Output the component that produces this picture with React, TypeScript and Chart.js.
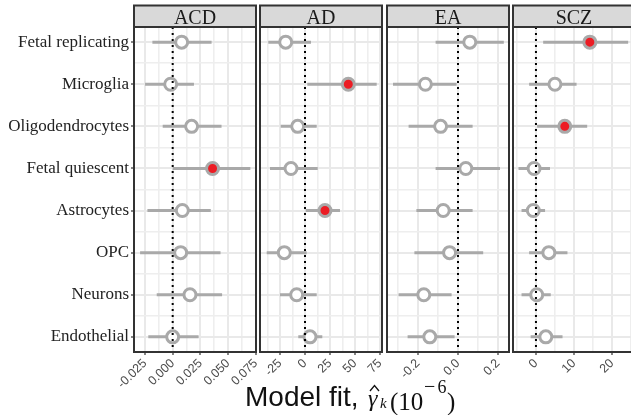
import React, { useEffect, useRef } from 'react';
import { Chart, registerables } from 'chart.js';
Chart.register(...registerables);

// ---------------- data ----------------
const categories = [
  'Fetal replicating',
  'Microglia',
  'Oligodendrocytes',
  'Fetal quiescent',
  'Astrocytes',
  'OPC',
  'Neurons',
  'Endothelial',
];

const panelNames = ['ACD', 'AD', 'EA', 'SCZ'];

const acdEstimate = [0.0081, -0.0018, 0.0171, 0.036, 0.0087, 0.0072, 0.0156, 0.0];
const acdLower = [-0.0183, -0.0249, -0.009, 0.0, -0.0228, -0.0294, -0.0144, -0.022];
const acdUpper = [0.0351, 0.0192, 0.0441, 0.0701, 0.0344, 0.0432, 0.0446, 0.0234];
const acdSignificant = [false, false, false, true, false, false, false, false];

const adEstimate = [-19.3, 43.3, -7.3, -14, 20, -20.7, -8.3, 5];
const adLower = [-36.7, 2.3, -24.3, -35, 0.7, -38.3, -25, -6.7];
const adUpper = [6, 71.7, 11.7, 12.7, 35, 1.7, 11.7, 17.3];
const adSignificant = [false, true, false, false, true, false, false, false];

const eaEstimate = [0.059, -0.163, -0.087, 0.039, -0.074, -0.042, -0.171, -0.141];
const eaLower = [-0.112, -0.325, -0.247, -0.112, -0.208, -0.218, -0.297, -0.252];
const eaUpper = [0.229, -0.007, 0.073, 0.21, 0.073, 0.126, -0.032, -0.017];
const eaSignificant = [false, false, false, false, false, false, false, false];

const sczEstimate = [14.2, 5.0, 7.6, -0.5, -0.7, 3.4, 0.2, 2.6];
const sczLower = [1.9, -1.8, 0.3, -4.6, -3.8, -1.8, -3.8, -1.4];
const sczUpper = [24.3, 10.7, 13.5, 3.7, 2.4, 8.3, 3.9, 7.0];
const sczSignificant = [true, false, true, false, false, false, false, false];

const acdTicks = [-0.025, 0, 0.025, 0.05, 0.075];
const acdTickLabels = ['-0.025', '0.000', '0.025', '0.050', '0.075'];
const adTicks = [-25, 0, 25, 50, 75];
const adTickLabels = ['-25', '0', '25', '50', '75'];
const eaTicks = [-0.2, 0, 0.2];
const eaTickLabels = ['-0.2', '0.0', '0.2'];
const sczTicks = [0, 10, 20];
const sczTickLabels = ['0', '10', '20'];

const acdRange = [-0.0349, 0.0752];
const adRange = [-45, 77];
const eaRange = [-0.355, 0.255];
const sczRange = [-6.05, 26.1];

// ---------------- styling / layout ----------------
const W = 631;
const H = 415;
const PANEL_LEFTS = [134, 260, 386.5, 513];
const PANEL_W = 122;
const PANEL_TOP = 27;
const PANEL_BOTTOM = 352;
const STRIP_TOP = 5.5;
const RED = '#ec1c24';
const GREY = '#a9a9a9';
const SANS = '"Liberation Sans", Arial, Helvetica, sans-serif';
const SERIF = '"Liberation Serif", "Times New Roman", serif';

const panels = [
  { name: panelNames[0], est: acdEstimate, lo: acdLower, hi: acdUpper, sig: acdSignificant, ticks: acdTicks, labels: acdTickLabels, range: acdRange },
  { name: panelNames[1], est: adEstimate, lo: adLower, hi: adUpper, sig: adSignificant, ticks: adTicks, labels: adTickLabels, range: adRange },
  { name: panelNames[2], est: eaEstimate, lo: eaLower, hi: eaUpper, sig: eaSignificant, ticks: eaTicks, labels: eaTickLabels, range: eaRange },
  { name: panelNames[3], est: sczEstimate, lo: sczLower, hi: sczUpper, sig: sczSignificant, ticks: sczTicks, labels: sczTickLabels, range: sczRange },
];

function drawTitle(ctx: CanvasRenderingContext2D) {
  ctx.save();
  ctx.fillStyle = '#111';
  ctx.textBaseline = 'alphabetic';
  ctx.textAlign = 'left';
  ctx.font = '28px ' + SANS;
  ctx.fillText('Model fit,', 245, 406);
  ctx.font = 'italic 24px ' + SERIF;
  ctx.fillText('γ', 368, 406);
  ctx.strokeStyle = '#111';
  ctx.lineWidth = 1.3;
  ctx.beginPath();
  ctx.moveTo(370, 391);
  ctx.lineTo(374.5, 385.5);
  ctx.lineTo(379, 391);
  ctx.stroke();
  ctx.font = 'italic 15px ' + SERIF;
  ctx.fillText('k', 380, 408);
  ctx.font = '25px ' + SERIF;
  ctx.fillText('(10', 390, 410);
  ctx.font = '20px ' + SERIF;
  ctx.fillText('−', 424, 393);
  ctx.font = '18px ' + SERIF;
  ctx.fillText('6', 437.5, 393);
  ctx.font = '25px ' + SERIF;
  ctx.fillText(')', 447, 410);
  ctx.restore();
}

function Panel({ index }: { index: number }) {
  const ref = useRef<HTMLCanvasElement | null>(null);
  const p = panels[index];
  const first = index === 0;
  const panelLeft = PANEL_LEFTS[index];
  const canvasLeft = first ? 0 : panelLeft - 40;
  const canvasWidth = first ? W : 40 + PANEL_W + 16;
  const padLeft = first ? 0 : 40;
  const padRight = canvasWidth - (panelLeft - canvasLeft) - PANEL_W;

  useEffect(() => {
    if (!ref.current) return;
    const step = p.ticks[1] - p.ticks[0];
    const minor: number[] = [];
    const cand = [p.ticks[0] - step / 2, ...p.ticks.slice(1).map((t, i) => (t + p.ticks[i]) / 2), p.ticks[p.ticks.length - 1] + step / 2];
    cand.forEach((v) => { if (v > p.range[0] && v < p.range[1]) minor.push(v); });
    const allX = [...p.ticks, ...minor].sort((a, b) => a - b);
    const tol = Math.abs(step) * 1e-6;
    const majorIdx = (v: number) => p.ticks.findIndex((t) => Math.abs(t - v) < tol);

    const yVals: number[] = [];
    categories.forEach((_, i) => { yVals.push(i); if (i < categories.length - 1) yVals.push(i + 0.5); });

    const barData: any[] = [];
    categories.forEach((_, i) => {
      barData.push({ x: p.lo[i], y: i }, { x: p.hi[i], y: i }, { x: null, y: null });
    });

    const deco = {
      id: 'deco' + index,
      afterDatasetsDraw(chart: any) {
        const { ctx, chartArea: a, scales } = chart;
        const px = scales.x.getPixelForValue(0);
        ctx.save();
        ctx.strokeStyle = '#000';
        ctx.lineWidth = 2;
        ctx.setLineDash([2, 4]);
        ctx.beginPath();
        ctx.moveTo(px, a.top);
        ctx.lineTo(px, a.bottom);
        ctx.stroke();
        ctx.restore();
      },
      afterDraw(chart: any) {
        const { ctx, chartArea: a } = chart;
        ctx.save();
        ctx.fillStyle = '#d9d9d9';
        ctx.fillRect(a.left, STRIP_TOP, a.right - a.left, a.top - STRIP_TOP);
        ctx.strokeStyle = '#333';
        ctx.lineWidth = 2;
        ctx.strokeRect(a.left, STRIP_TOP, a.right - a.left, a.top - STRIP_TOP);
        ctx.strokeRect(a.left, a.top, a.right - a.left, a.bottom - a.top);
        ctx.fillStyle = '#1a1a1a';
        ctx.font = '20px ' + SERIF;
        ctx.textAlign = 'center';
        ctx.textBaseline = 'alphabetic';
        ctx.fillText(p.name, (a.left + a.right) / 2, 23.5);
        ctx.restore();
        if (first) drawTitle(ctx);
      },
    };

    const chart = new Chart(ref.current, {
      type: 'scatter',
      data: {
        datasets: [
          {
            type: 'scatter',
            data: p.est.map((v, i) => ({ x: v, y: i })),
            pointRadius: 6,
            pointBorderWidth: 3,
            pointBorderColor: GREY,
            pointBackgroundColor: p.sig.map((s) => (s ? RED : '#ffffff')),
            order: 0,
          } as any,
          {
            type: 'line',
            data: barData,
            borderColor: GREY,
            borderWidth: 3,
            borderCapStyle: 'butt',
            pointRadius: 0,
            showLine: true,
            spanGaps: false,
            order: 1,
          } as any,
        ],
      },
      options: {
        responsive: false,
        animation: false,
        events: [],
        layout: { padding: { left: padLeft, right: padRight, top: PANEL_TOP, bottom: 0 } },
        plugins: { legend: { display: false }, tooltip: { enabled: false }, title: { display: false } },
        scales: {
          x: {
            type: 'linear',
            min: p.range[0],
            max: p.range[1],
            afterBuildTicks: (scale: any) => { scale.ticks = allX.map((v) => ({ value: v })); },
            afterFit: (scale: any) => { scale.height = H - PANEL_BOTTOM; },
            border: { display: false },
            grid: {
              color: (c: any) => (c.tick && majorIdx(c.tick.value) >= 0 ? '#e9e9e9' : '#eeeeee'),
              lineWidth: (c: any) => (c.tick && majorIdx(c.tick.value) >= 0 ? 2 : 1.6),
              tickColor: (c: any) => (c.tick && majorIdx(c.tick.value) >= 0 ? '#333' : 'rgba(0,0,0,0)'),
              tickLength: 3,
              tickWidth: 1.2,
            },
            ticks: {
              autoSkip: false,
              minRotation: 45,
              maxRotation: 45,
              padding: 1,
              color: '#4d4d4d',
              font: { family: SANS, size: 12.5 },
              callback: (v: any) => { const k = majorIdx(Number(v)); return k >= 0 ? p.labels[k] : ''; },
            },
          },
          y: {
            type: 'linear',
            reverse: true,
            min: -0.36,
            max: categories.length - 1 + 0.36,
            afterBuildTicks: (scale: any) => { scale.ticks = yVals.map((v) => ({ value: v })); },
            afterFit: (scale: any) => { scale.width = first ? PANEL_LEFTS[0] : 0; },
            border: { display: false },
            grid: {
              color: (c: any) => (c.tick && Number.isInteger(c.tick.value) ? '#e9e9e9' : '#eeeeee'),
              lineWidth: (c: any) => (c.tick && Number.isInteger(c.tick.value) ? 2 : 1.6),
              tickColor: (c: any) => (first && c.tick && Number.isInteger(c.tick.value) ? '#333' : 'rgba(0,0,0,0)'),
              drawTicks: first,
              tickLength: 3,
              tickWidth: 1.2,
            },
            ticks: {
              display: first,
              autoSkip: false,
              padding: 2,
              color: '#222',
              font: { family: SERIF, size: 17 },
              callback: (v: any) => (Number.isInteger(Number(v)) ? categories[Number(v)] : ''),
            },
          },
        },
      } as any,
      plugins: [deco],
    });
    return () => chart.destroy();
  }, []);

  return (
    <canvas
      ref={ref}
      width={canvasWidth}
      height={H}
      style={{ position: 'absolute', left: canvasLeft, top: 0, width: canvasWidth, height: H }}
    />
  );
}

export default function App() {
  return (
    <div style={{ position: 'absolute', left: 0, top: 0, width: W, height: H, overflow: 'hidden', background: '#fff' }}>
      {panels.map((_, i) => (
        <Panel key={i} index={i} />
      ))}
    </div>
  );
}
